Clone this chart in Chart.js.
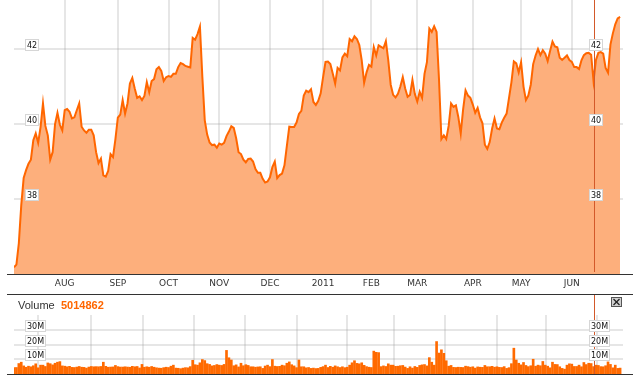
<!DOCTYPE html>
<html lang="en">
<head>
    <meta charset="UTF-8">
    <title>Price and Volume</title>
    <script src="https://cdn.jsdelivr.net/npm/chart.js"></script>
    <style>
        * { margin: 0; padding: 0; box-sizing: border-box; }

        body {
            width: 633px;
            height: 385px;
            background: #fff;
            position: relative;
            overflow: hidden;
            font-family: "Liberation Sans", Arial, sans-serif;
        }

        /* price panel on top, volume panel below */
        #priceWrap { position: absolute; left: 0; top: 0; width: 633px; height: 294px; }
        #volWrap { position: absolute; left: 0; top: 294px; width: 633px; height: 91px; }

        .rule { position: absolute; left: 7px; width: 626px; height: 1px; background: #333; }

        .vol-label { position: absolute; left: 18px; top: 299px; font-size: 11px; line-height: 13px; color: #333; }
        .vol-value { position: absolute; left: 61px; top: 299px; font-size: 11px; line-height: 13px; font-weight: bold; color: #ff6600; }

        .close-btn {
            position: absolute;
            left: 611px;
            top: 297px;
            width: 11px;
            height: 10px;
            background: #d0d0d0;
            border: 1px solid #555;
        }
        .close-btn svg { display: block; }
    </style>
</head>
<body>
    <div id="priceWrap"><canvas id="priceChart"></canvas></div>
    <div id="volWrap"><canvas id="volChart"></canvas></div>

    <div class="rule" style="top: 274px;"></div>
    <div class="rule" style="top: 294px;"></div>
    <div class="rule" style="top: 374px;"></div>

    <div class="vol-label">Volume</div>
    <div class="vol-value" id="volValue"></div>
    <div class="close-btn">
        <svg width="9" height="8" viewBox="0 0 9 8">
            <line x1="1.5" y1="1" x2="7.5" y2="7" stroke="#222" stroke-width="1.2"/>
            <line x1="7.5" y1="1" x2="1.5" y2="7" stroke="#222" stroke-width="1.2"/>
        </svg>
    </div>

    <script>
        // daily closes, one per trading day (Jul 2010 - Jun 2011)
        const prices = [
            36.18, 36.25, 36.82, 37.83, 38.56, 38.77, 38.94, 39.05, 39.57, 39.75, 39.50, 39.92,
            40.55, 39.95, 39.70, 39.05, 39.25, 40.00, 40.30, 39.98, 39.83, 40.37, 40.40, 40.33,
            40.15, 40.18, 40.37, 40.55, 39.93, 39.83, 39.77, 39.85, 39.85, 39.70, 39.25, 38.96,
            39.08, 38.63, 38.60, 38.75, 39.20, 39.12, 39.60, 40.17, 40.25, 40.64, 40.28, 40.55,
            41.08, 41.23, 40.95, 40.70, 40.74, 40.64, 40.75, 41.12, 40.85, 41.15, 41.20, 41.46,
            41.52, 41.42, 41.15, 41.25, 41.28, 41.26, 41.34, 41.34, 41.52, 41.63, 41.60, 41.55,
            41.53, 41.51, 42.30, 42.25, 42.40, 42.60, 41.26, 40.10, 39.72, 39.51, 39.44, 39.45,
            39.37, 39.48, 39.45, 39.50, 39.68, 39.80, 39.94, 39.90, 39.62, 39.25, 39.20, 39.05,
            38.98, 39.07, 39.08, 39.00, 38.80, 38.70, 38.70, 38.54, 38.44, 38.47, 38.58, 38.85,
            39.00, 38.56, 38.64, 38.68, 38.90, 39.42, 39.93, 39.92, 39.92, 40.04, 40.27, 40.35,
            40.76, 40.89, 40.85, 40.93, 40.59, 40.51, 40.62, 40.82, 41.25, 41.66, 41.67, 41.60,
            41.35, 41.08, 41.50, 41.43, 41.78, 41.88, 41.81, 42.27, 42.21, 42.34, 42.27, 42.11,
            41.70, 41.10, 41.38, 41.58, 41.53, 42.05, 41.83, 42.10, 42.06, 42.02, 42.21, 41.70,
            41.05, 40.78, 40.71, 40.81, 41.00, 41.25, 40.95, 40.73, 40.78, 41.18, 40.80, 40.60,
            40.86, 40.70, 41.34, 41.65, 42.55, 42.46, 42.61, 42.46, 41.20, 39.60, 39.70, 39.60,
            39.95, 40.55, 40.46, 40.50, 40.19, 39.75, 40.40, 40.90, 40.76, 40.70, 40.52, 40.30,
            40.43, 40.18, 40.02, 39.45, 39.34, 39.52, 39.88, 40.15, 39.88, 39.86, 40.04, 40.17,
            40.28, 40.70, 41.12, 41.67, 41.62, 41.38, 41.65, 41.00, 40.64, 40.76, 41.05, 41.60,
            41.83, 42.00, 41.84, 41.97, 41.88, 41.68, 41.95, 42.20, 42.07, 42.05, 41.77, 41.71,
            41.77, 41.83, 41.71, 41.66, 41.52, 41.52, 41.47, 41.70, 41.84, 41.89, 41.90, 41.85,
            41.15, 41.71, 41.90, 41.92, 41.88, 41.50, 41.37, 42.12, 42.42, 42.66, 42.82, 42.86
        ];

        // daily volume in millions of shares
        const volumes = [
            4.4, 4.4, 7.1, 8.0, 5.5, 4.6, 5.3, 4.9, 5.6, 6.9, 4.2, 6.0,
            6.0, 5.1, 7.5, 7.0, 6.2, 7.3, 8.0, 8.4, 5.5, 5.3, 4.9, 5.2,
            4.5, 4.4, 4.7, 5.1, 4.6, 4.5, 4.0, 4.7, 5.1, 4.9, 5.0, 4.9,
            5.1, 8.0, 5.2, 4.6, 4.7, 4.8, 5.8, 5.0, 4.7, 4.7, 4.9, 4.7,
            4.6, 5.2, 4.9, 5.1, 4.1, 6.5, 4.6, 4.9, 4.6, 5.1, 4.6, 4.2,
            4.0, 3.9, 4.3, 4.6, 4.4, 5.3, 6.0, 4.0, 3.9, 3.6, 4.0, 4.3,
            4.2, 5.0, 9.3, 6.3, 6.0, 7.6, 9.8, 9.1, 7.0, 6.5, 5.5, 5.8,
            6.4, 6.0, 5.8, 6.5, 16.0, 11.0, 9.5, 5.6, 6.2, 4.8, 7.3, 5.6,
            6.3, 5.8, 4.9, 4.9, 4.6, 4.8, 4.9, 3.8, 5.4, 6.0, 5.0, 9.8,
            5.3, 5.1, 5.2, 6.0, 5.6, 7.3, 8.2, 6.3, 5.5, 4.3, 9.5, 4.9,
            4.9, 4.2, 4.4, 3.8, 4.0, 3.7, 3.8, 4.5, 5.0, 6.0, 4.4, 5.2,
            4.6, 5.5, 4.9, 4.4, 4.9, 4.3, 4.6, 6.0, 7.6, 9.0, 7.2, 6.9,
            7.6, 5.9, 5.0, 4.6, 4.4, 15.5, 14.7, 14.5, 5.0, 5.5, 5.1, 6.9,
            6.0, 6.0, 5.2, 5.3, 5.6, 5.8, 4.7, 3.8, 4.9, 4.0, 5.1, 4.5,
            5.8, 6.2, 6.4, 5.5, 11.1, 8.0, 6.0, 22.0, 14.2, 16.4, 14.0, 9.0,
            5.3, 5.8, 4.5, 4.4, 4.6, 4.5, 4.4, 5.3, 5.0, 4.6, 4.9, 4.0,
            4.8, 4.6, 4.5, 5.8, 4.9, 4.9, 5.2, 4.6, 4.9, 4.5, 4.4, 5.0,
            3.8, 4.3, 7.0, 17.5, 9.5, 7.3, 6.2, 7.8, 5.8, 5.0, 5.6, 10.0,
            5.3, 6.0, 5.6, 8.5, 6.0, 5.3, 4.2, 8.0, 6.5, 6.4, 4.9, 3.8,
            3.3, 6.0, 6.9, 6.7, 5.1, 5.1, 6.0, 4.9, 7.8, 6.4, 7.3, 7.1,
            5.014862, 6.0, 5.8, 5.0, 4.9, 5.6, 8.2, 6.5, 4.2, 6.0, 3.8, 4.0
        ];

        // first trading day of each month (index into the series)
        const monthIdx = [21, 43, 64, 85, 106, 128, 148, 167, 190, 210, 231];
        const monthLabels = ['AUG', 'SEP', 'OCT', 'NOV', 'DEC', '2011', 'FEB', 'MAR', 'APR', 'MAY', 'JUN'];

        const priceTicks = [38, 40, 42];
        const volumeTicks = [10, 20, 30];

        // day under the cursor
        const selectedIdx = 240;
        const selectedVolume = '5014862';

        document.getElementById('volValue').textContent = selectedVolume;

        const gridColor = 'rgba(150, 150, 150, 0.24)';
        const tagFont = '8px "DejaVu Sans", sans-serif';
        const xMax = 252.2;

        // vertical cursor line + boxed tick labels on both sides
        function makeOverlay(id, ticks, fmt, boxWidth, lineGap) {
            return {
                id: id,
                afterDatasetsDraw(chart) {
                    const ctx = chart.ctx;
                    const x = Math.round(chart.scales.x.getPixelForValue(selectedIdx)) + 0.5;
                    ctx.save();
                    ctx.strokeStyle = '#d3592a';
                    ctx.lineWidth = 1;
                    ctx.beginPath();
                    ctx.moveTo(x, 0);
                    ctx.lineTo(x, chart.chartArea.bottom - lineGap);
                    ctx.stroke();
                    ctx.restore();
                },
                afterDraw(chart) {
                    const ctx = chart.ctx;
                    const y = chart.scales.y;
                    ctx.save();
                    ctx.font = tagFont;
                    ctx.textAlign = 'center';
                    ctx.textBaseline = 'middle';
                    ticks.forEach(v => {
                        const py = Math.round(y.getPixelForValue(v));
                        [25, 589].forEach(left => {
                            ctx.fillStyle = '#fff';
                            ctx.fillRect(left, py - 10, boxWidth, 12);
                            ctx.strokeStyle = '#d6d6d6';
                            ctx.strokeRect(left + 0.5, py - 9.5, boxWidth - 1, 11);
                            ctx.fillStyle = '#111';
                            ctx.fillText(fmt(v), left + boxWidth / 2, py - 3.5);
                        });
                    });
                    ctx.restore();
                }
            };
        }

        // price area chart
        new Chart(document.getElementById('priceChart'), {
            type: 'line',
            data: {
                datasets: [{
                    data: prices.map((v, i) => ({ x: i, y: v })),
                    borderColor: '#ff6600',
                    borderWidth: 2,
                    backgroundColor: '#fdaf7c',
                    fill: 'start',
                    pointRadius: 0,
                    tension: 0
                }]
            },
            options: {
                responsive: true,
                maintainAspectRatio: false,
                animation: false,
                layout: { padding: { left: 14, right: 10, top: 0, bottom: 0 } },
                plugins: { legend: { display: false }, tooltip: { enabled: false } },
                scales: {
                    x: {
                        type: 'linear',
                        min: 0,
                        max: xMax,
                        z: 1,
                        afterBuildTicks: s => { s.ticks = monthIdx.map(v => ({ value: v })); },
                        afterFit: s => { s.height = 20; },
                        grid: { color: gridColor, lineWidth: 2, drawTicks: false },
                        border: { display: false },
                        ticks: {
                            autoSkip: false,
                            maxRotation: 0,
                            padding: 4,
                            color: '#333',
                            font: { family: '"DejaVu Sans", sans-serif', size: 9 },
                            callback: (v, i) => monthLabels[i]
                        }
                    },
                    y: {
                        min: 36,
                        max: 43.31,
                        z: 1,
                        afterBuildTicks: s => { s.ticks = priceTicks.map(v => ({ value: v })); },
                        afterFit: s => { s.width = 0; },
                        grid: { color: gridColor, lineWidth: 2, drawTicks: false },
                        border: { display: false },
                        ticks: { display: false }
                    }
                }
            },
            plugins: [makeOverlay('priceOverlay', priceTicks, v => String(v), 14, 2)]
        });

        // volume bars
        new Chart(document.getElementById('volChart'), {
            type: 'bar',
            data: {
                datasets: [{
                    data: volumes.map((v, i) => ({ x: i, y: v })),
                    backgroundColor: '#ff6a00',
                    barThickness: 2,
                    grouped: false
                }]
            },
            options: {
                responsive: true,
                maintainAspectRatio: false,
                animation: false,
                layout: { padding: { left: 14, right: 10, top: 21, bottom: 11 } },
                plugins: { legend: { display: false }, tooltip: { enabled: false } },
                scales: {
                    x: {
                        type: 'linear',
                        min: 0,
                        max: xMax,
                        offset: false,
                        afterBuildTicks: s => { s.ticks = monthIdx.map(v => ({ value: v })); },
                        afterFit: s => { s.height = 0; },
                        grid: { color: gridColor, lineWidth: 2, drawTicks: false },
                        border: { display: false },
                        ticks: { display: false }
                    },
                    y: {
                        min: 0,
                        max: 40,
                        afterBuildTicks: s => { s.ticks = volumeTicks.map(v => ({ value: v })); },
                        afterFit: s => { s.width = 0; },
                        grid: { color: gridColor, lineWidth: 2, drawTicks: false },
                        border: { display: false },
                        ticks: { display: false }
                    }
                }
            },
            plugins: [makeOverlay('volOverlay', volumeTicks, v => v + 'M', 21, 0)]
        });
    </script>
</body>
</html>
